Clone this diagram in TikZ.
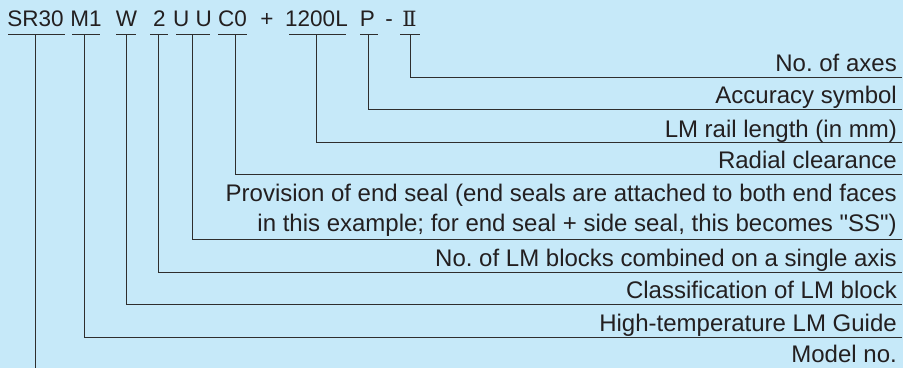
\documentclass[tikz,border=0pt]{standalone}
\usepackage{fontspec}
\setmainfont{Liberation Sans}[Ligatures=TeXOff]
\newfontfamily\romfont{DejaVu Serif}
\definecolor{bgblue}{HTML}{C6E9F9}
\definecolor{ink}{HTML}{231F20}
\definecolor{rule}{HTML}{2E2E2E}
\begin{document}
\frenchspacing
\begin{tikzpicture}[x=1pt,y=-1pt,
  code/.style={anchor=base,inner sep=0pt,text=ink,font=\fontsize{22.5}{27}\selectfont},
  lab/.style={anchor=base east,inner sep=0pt,text=ink,font=\fontsize{24}{29}\selectfont},
  conn/.style={draw=rule,line width=0.85pt},
  uline/.style={draw=rule,line width=0.85pt}]
\useasboundingbox (0,0) rectangle (903,368);
\fill[bgblue] (0,0) rectangle (903,368);
% code tokens
\node[code] (t1) at (35.5,26) {SR30};
\node[code] (t2) at (86,26) {M1};
\node[code] (t3) at (126.5,26) {W};
\node[code] (t4) at (159.5,26) {2};
\node[code] (t5) at (192.5,26) {U U};
\node[code] (t6) at (232.5,26) {C0};
\node[code] (t7) at (267,26) {+};
\node[code] (t8) at (316.5,26) {1200L};
\node[code] (t9) at (367.5,26) {P};
\node[code] (t10) at (389,26) {-};
\node[code,font=\romfont\fontsize{21}{25}\selectfont] (t11) at (409.5,26) {Ⅱ};
% underlines
\draw[uline] (8,34) -- (65,34);
\draw[uline] (72,34) -- (100,34);
\draw[uline] (116,34) -- (136,34);
\draw[uline] (150,34) -- (168,34);
\draw[uline] (176,34) -- (210,34);
\draw[uline] (218,34) -- (247,34);
\draw[uline] (289,34) -- (346,34);
\draw[uline] (360,34) -- (378,34);
\draw[uline] (400,34) -- (420,34);
% tops of connectors
\coordinate (u1) at (35,34);
\coordinate (u2) at (84,34);
\coordinate (u3) at (126,34);
\coordinate (u4) at (158,34);
\coordinate (u5) at (192,34);
\coordinate (u6) at (235,34);
\coordinate (u8) at (316,34);
\coordinate (u9) at (368,34);
\coordinate (u11) at (410,34);
% ends of connectors
\coordinate (e1) at (901.5,77);
\coordinate (e2) at (901.5,109);
\coordinate (e3) at (901.5,142.5);
\coordinate (e4) at (901.5,174);
\coordinate (e5) at (901.5,239);
\coordinate (e6) at (901.5,272);
\coordinate (e7) at (901.5,304);
\coordinate (e8) at (901.5,337);
\coordinate (e9) at (35,368);
% labels
\node[lab] (l1) at (897,71.5) {No. of axes};
\node[lab] (l2) at (897,103.5) {Accuracy symbol};
\node[lab] (l3) at (897,137) {LM rail length (in mm)};
\node[lab] (l4) at (897,168.5) {Radial clearance};
\node[lab] (l5a) at (897,201.7) {Provision of end seal (end seals are attached to both end faces};
\node[lab] (l5b) at (897,231) {in this example; for end seal + side seal, this becomes "SS")};
\node[lab] (l6) at (897,266.5) {No. of LM blocks combined on a single axis};
\node[lab] (l7) at (897,298.5) {Classification of LM block};
\node[lab] (l8) at (897,331.5) {High-temperature LM Guide};
\node[lab] (l9) at (897,362) {Model no.};
% connectors
\draw[conn] (u11) |- (e1);
\draw[conn] (u9) |- (e2);
\draw[conn] (u8) |- (e3);
\draw[conn] (u6) |- (e4);
\draw[conn] (u5) |- (e5);
\draw[conn] (u4) |- (e6);
\draw[conn] (u3) |- (e7);
\draw[conn] (u2) |- (e8);
\draw[conn] (u1) -- (e9);
\end{tikzpicture}
\end{document}
